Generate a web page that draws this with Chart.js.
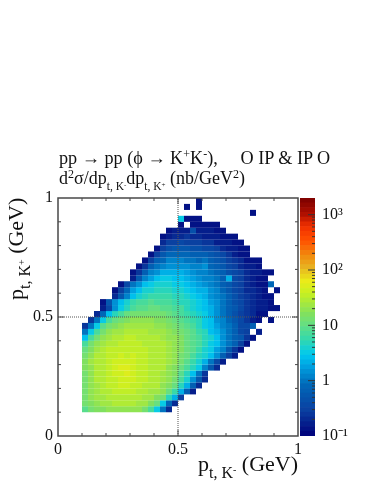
<!DOCTYPE html>
<html>
<head>
<meta charset="utf-8">
<title>pt K+ vs pt K-</title>
<script src="https://cdn.jsdelivr.net/npm/chart.js@4"></script>
<style>
  html, body { margin: 0; padding: 0; background: #fff; }
  #page { position: relative; width: 374px; height: 484px; overflow: hidden; font-family: "Liberation Serif", serif; color: #111; }
  canvas { position: absolute; left: 0; top: 0; }
  .txt { position: absolute; white-space: pre; line-height: 1; }
  .txt sub, .txt sup { line-height: 0; }
  #title1 { left: 59px; top: 149px; font-size: 18.2px; }
  #title2 { left: 59px; top: 169px; font-size: 18px; }
  #title2 sup { font-size: 12px; vertical-align: 6px; }
  #title1 sup { font-size: 12px; vertical-align: 6px; }
  #title2 sub { font-size: 11.5px; vertical-align: -6px; }
  #xTitle { left: 198px; top: 453px; font-size: 22px; }
  #xTitle sub { font-size: 16px; vertical-align: -7px; }
  #yTitle { left: 5px; top: 300px; font-size: 22px; transform-origin: 0 0; transform: rotate(-90deg); }
  #yTitle sub { font-size: 16px; vertical-align: -7px; }
</style>
</head>
<body>
<div id="page">
  <canvas id="mapChart" width="374" height="484"></canvas>
  <canvas id="barChart" width="374" height="484"></canvas>
  <div class="txt" id="title1">pp → pp (ϕ → K<sup>+</sup>K<sup>-</sup>),     O IP &amp; IP O</div>
  <div class="txt" id="title2">d<sup>2</sup>σ/dp<sub>t, K<sup style="font-size:7px;vertical-align:3px">-</sup></sub>dp<sub>t, K<sup style="font-size:7px;vertical-align:3px">+</sup></sub> (nb/GeV<sup>2</sup>)</div>
  <div class="txt" id="xTitle">p<sub>t, K<sup style="font-size:10px;vertical-align:5px">-</sup></sub> (GeV)</div>
  <div class="txt" id="yTitle">p<sub>t, K<sup style="font-size:10px;vertical-align:5px">+</sup></sub> (GeV)</div>
</div>
<script>
// cross section per bin, one array per p_t,K+ row (row 0 = 0.100-0.125), first cell at rowStart[row]
const rowStart = [4, 4, 4, 4, 4, 4, 4, 4, 4, 4, 4, 4, 4, 4, 4, 5, 6, 7, 7, 9, 9, 10, 12, 12, 13, 14, 15, 16, 17, 17, 18, 20, 20, 32, 21, 23];
const row00 = [9, 12, 15, 17, 19, 20, 21, 21, 20, 18, 13, 7, 3, 0.9, 0.2];
const row01 = [12, 17, 20, 23, 25, 27, 27, 27, 26, 25, 22, 17, 10, 3.5, 0.8, 0.2];
const row02 = [13, 18, 22, 25, 28, 30, 31, 31, 30, 28, 25, 22, 17, 13, 5, 2, 0.3];
const row03 = [13, 19, 23, 27, 30, 33, 36, 36, 33, 30, 28, 25, 23, 18, 11, 6, 2, 0.6, 0.15];
const row04 = [14, 20, 24, 28, 32, 35, 40, 42, 38, 33, 30, 27, 26, 21, 15, 10, 5, 2, 0.6, 0.2];
const row05 = [14, 21, 26, 30, 33, 38, 44, 44, 42, 35, 32, 29, 28, 23, 18, 13, 7, 4, 1.4, 0.5, 0.2];
const row06 = [14, 21, 26, 30, 34, 40, 46, 48, 44, 36, 33, 30, 29, 25, 20, 15, 9, 5, 2.5, 0.9, 0.25];
const row07 = [15, 21, 27, 31, 35, 42, 47, 48, 43, 37, 34, 31, 29, 26, 21, 17, 11, 7, 4.5, 3, 1.2, 0.5, 0.2];
const row08 = [15, 22, 27, 31, 35, 40, 46, 46, 42, 37, 34, 31, 29, 26, 22, 18, 12, 8, 5.5, 3.6, 2.2, 0.9, 0.4, 0.18];
const row09 = [14, 21, 27, 31, 35, 38, 44, 38, 44, 37, 34, 31, 29, 26, 23, 19, 14, 10, 7, 5, 3.6, 2.5, 1.5, 0.6, 0.3, 0.15];
const row10 = [11, 17, 22, 28, 32, 35, 37, 38, 38, 36, 33, 30, 29, 26, 24, 20, 15, 11, 8, 6, 4.3, 3, 1.9, 1.1, 0.5, 0.25, 0.14];
const row11 = [7, 13, 18, 23, 28, 31, 34, 36, 35, 33, 31, 29, 28, 26, 23, 19, 15, 11, 8.5, 6.5, 4.8, 3.4, 2.4, 1.6, 0.9, 0.6, 0.3, 0.14];
const row12 = [2.5, 7, 13, 19, 24, 27, 30, 32, 32, 31, 29, 27, 26, 24, 21, 18, 14.5, 11, 8.5, 6.5, 5, 3.6, 2.5, 1.5, 1, 0.7, 0.5, 0.25, 0.14];
const row13 = [0.9, 3, 7, 12, 18, 22, 25, 27, 28, 28, 27, 25, 24, 22, 19, 16, 13, 10.5, 8, 6, 4.5, 2.8, 2, 1.4, 1, 0.7, 0.4, 0.3, null, 0.15];
const row14 = [0.25, 0.9, 3, 8, 12, 16, 19, 22, 23, 24, 23, 22, 21, 19, 17, 14, 11.5, 9, 7, 5, 3.5, 2.5, 1.8, 1.2, 0.9, 0.6, 0.4, 0.4, 0.6];
const row15 = [0.25, 0.9, 3, 6.5, 10, 13, 16, 18, 19, 19, 18, 17, 15, 13, 11, 9, 7.5, 6, 4.5, 3.3, 2.4, 1.6, 1.1, 0.8, 0.5, 0.35, 0.25, 0.15, 0.13, null, 0.13];
const row16 = [0.2, 0.8, 2.5, 4.5, 7, 10, 12, 13, 14, 14, 13, 12, 10, 9, 7.5, 6, 5, 4, 3, 2.2, 1.4, 1, 0.7, 0.45, 0.3, 0.25, 0.2, 0.13, 0.13];
const row17 = [0.15, 0.4, 1.5, 3, 5, 7, 8.5, 9.5, 10, 10, 9.5, 8.5, 7.5, 6.5, 5.2, 4.2, 3.4, 2.6, 2, 1.4, 1, 0.7, 0.5, 0.35, 0.25, 0.2, 0.15, 0.15, 0.13, 0.13];
const row18 = [0.13, 0.5, 1.5, 2.6, 4, 5.5, 6.5, 7.5, 8, 7.5, 7, 6.5, 6, 5.2, 4.5, 3.6, 3, 2.4, 1.9, 1.4, 1, 0.7, 0.45, 0.33, 0.25, 0.2, 0.18, 0.15, 0.13];
const row19 = [0.2, 0.5, 1.2, 2.4, 4, 5, 6, 6, 6, 5.5, 5, 4.5, 4, 3.3, 2.7, 2.1, 1.6, 1.2, 0.9, 0.6, 0.42, 0.3, 0.25, 0.2, 0.15, 0.14, 0.13];
const row20 = [0.14, 0.3, 0.8, 1.7, 2.6, 3.6, 4.3, 4.8, 4.8, 4.5, 4.2, 3.6, 3.2, 2.8, 2.3, 2, 1.4, 1.1, 0.8, 0.55, 0.4, 0.3, 0.2, 0.2, 0.15, 0.14, null, 0.13];
const row21 = [0.14, 0.35, 0.9, 1.5, 2.4, 3.1, 3.6, 3.8, 3.8, 3.5, 3.2, 2.7, 2.3, 1.9, 1.6, 1.3, 1, 0.7, 0.5, 0.38, 0.27, 0.2, 0.17, 0.14, 0.14, 0.8];
const row22 = [0.15, 0.5, 1.1, 1.9, 2.5, 2.9, 2.9, 2.8, 2.6, 2.2, 1.9, 1.5, 1.3, 1.1, 0.9, 0.7, 2, 0.4, 0.3, 0.22, 0.18, 0.14, 0.13];
const row23 = [0.13, 0.25, 0.6, 1.1, 1.6, 2, 2.2, 2.2, 2, 1.8, 1.5, 1.3, 1.1, 1, 0.8, 0.6, 0.45, 0.35, 0.28, 0.2, 0.17, 0.15, 0.13, 0.13];
const row24 = [0.13, 0.25, 0.6, 1, 1.3, 1.5, 1.6, 1.5, 1.4, 1.3, 1.1, 1.4, 0.8, 0.7, 0.5, 0.4, 0.3, 0.22, 0.18, 0.15, 0.13];
const row25 = [0.14, 0.28, 0.6, 0.85, 1.1, 1.2, 1.1, 1, 0.95, 0.85, 0.95, 0.65, 0.55, 0.42, 0.3, 0.25, 0.2, 0.14, 0.13, 0.13];
const row26 = [0.14, 0.28, 0.55, 0.75, 0.85, 0.85, 0.75, 0.7, 0.65, 0.6, 0.5, 0.42, 0.33, 0.25, 0.18, 0.14, 0.13];
const row27 = [0.14, 0.3, 0.42, 0.5, 0.55, 0.5, 0.45, 0.42, 0.38, 0.33, 0.28, 0.22, 0.18, 0.16, 0.14, 0.13];
const row28 = [0.2, 0.28, 0.32, 0.35, 0.32, 0.3, 0.28, 0.25, 0.23, 0.18, 0.16, 0.15, 0.13, 0.13];
const row29 = [0.14, 0.18, 0.22, 0.22, 0.25, 0.22, 0.2, 0.18, 0.17, 0.15, 0.14, 0.13, 0.13];
const row30 = [0.14, 0.15, 0.18, 0.16, 0.45, 0.16, 0.15, 0.15, 0.14, 0.14];
const row31 = [0.13, null, 0.14, 0.13, 0.13, 0.13, 0.13];
const row32 = [3, 0.14, 0.14, 0.13];
const row33 = [0.13];
const row34 = [0.13, null, 0.13];
const row35 = [0.13];
const rows = [row00, row01, row02, row03, row04, row05, row06, row07, row08, row09, row10, row11,
  row12, row13, row14, row15, row16, row17, row18, row19, row20, row21, row22, row23,
  row24, row25, row26, row27, row28, row29, row30, row31, row32, row33, row34, row35];

const binWidth = 0.025;
const axisTicks = [0, 0.5, 1];
const axisLabels = ['0', '0.5', '1'];
const minorTicks = [0.1, 0.2, 0.3, 0.4, 0.6, 0.7, 0.8, 0.9];
const crossAt = 0.5;

// color bar
const zMin = 0.1;
const zMax = 2000;
const zLevels = 50;
const zDecades = [0.1, 1, 10, 100, 1000];
const zDecadeLabels = ['10⁻¹', '1', '10', '10²', '10³'];
const zMinorMantissa = [2, 3, 4, 5, 6, 7, 8, 9];
const paletteAt = [0, 0.105, 0.214, 0.29, 0.34, 0.40, 0.48, 0.51, 0.60, 0.65, 0.71, 0.75, 0.82, 0.88, 0.93, 1];
const paletteRgb = [
  [0, 0, 122], [10, 63, 160], [0, 104, 184], [0, 160, 224], [0, 200, 240], [48, 216, 176],
  [112, 224, 120], [128, 224, 96], [200, 240, 32], [235, 235, 25], [232, 176, 32], [240, 144, 16],
  [255, 80, 0], [240, 48, 0], [176, 16, 0], [122, 0, 0]
];

const serif = '"Liberation Serif", serif';
const frameColor = '#484848';

function paletteColor(f) {
    f = Math.min(1, Math.max(0, f));
    let i = 0;
    while (i < paletteAt.length - 2 && f > paletteAt[i + 1]) i++;
    const t = (f - paletteAt[i]) / (paletteAt[i + 1] - paletteAt[i]);
    const c = paletteRgb[i].map((v, k) => Math.round(v + (paletteRgb[i + 1][k] - v) * t));
    return `rgb(${c[0]},${c[1]},${c[2]})`;
}

// same 50 steps as the color bar
function zColor(z) {
    const f = Math.log(z / zMin) / Math.log(zMax / zMin);
    const level = Math.min(zLevels - 1, Math.floor(f * zLevels));
    return paletteColor((level + 0.5) / zLevels);
}

const cells = [];
const cellColors = [];
rows.forEach((row, r) => {
    row.forEach((z, i) => {
        if (z === null) return;
        cells.push({ x: (rowStart[r] + i + 0.5) * binWidth, y: 0.1 + (r + 0.5) * binWidth });
        cellColors.push(zColor(z));
    });
});

const framePlugin = {
    id: 'frame',
    afterDatasetsDraw(chart) {
        const { ctx, chartArea: a, scales: { x, y } } = chart;
        ctx.save();
        ctx.strokeStyle = frameColor;
        ctx.lineWidth = 1;
        ctx.beginPath();
        // inward ticks on all four sides
        const tick = (v, len) => {
            const px = x.getPixelForValue(v);
            const py = y.getPixelForValue(v);
            ctx.moveTo(px, a.bottom); ctx.lineTo(px, a.bottom - len);
            ctx.moveTo(px, a.top); ctx.lineTo(px, a.top + len);
            ctx.moveTo(a.left, py); ctx.lineTo(a.left + len, py);
            ctx.moveTo(a.right, py); ctx.lineTo(a.right - len, py);
        };
        minorTicks.forEach(v => tick(v, 3));
        tick(crossAt, 6);
        ctx.stroke();
        ctx.lineWidth = 1.5;
        ctx.strokeRect(a.left, a.top, a.right - a.left, a.bottom - a.top);
        ctx.restore();
    }
};

new Chart(document.getElementById('mapChart'), {
    type: 'scatter',
    data: {
        datasets: [
            { data: [{ x: crossAt, y: 0 }, { x: crossAt, y: 1 }], showLine: true, pointRadius: 0, borderColor: '#555', borderWidth: 1, borderDash: [1, 1] },
            { data: [{ x: 0, y: crossAt }, { x: 1, y: crossAt }], showLine: true, pointRadius: 0, borderColor: '#555', borderWidth: 1, borderDash: [1, 1] },
            { data: cells, pointStyle: 'rect', pointRadius: 4.28, pointBorderWidth: 0, pointBackgroundColor: cellColors }
        ]
    },
    options: {
        responsive: false,
        animation: false,
        layout: { padding: { left: 0, top: 198, right: 76, bottom: 0 } },
        plugins: { legend: { display: false }, tooltip: { enabled: false } },
        scales: {
            x: {
                type: 'linear', min: 0, max: 1,
                grid: { display: false, drawTicks: false }, border: { display: false },
                afterBuildTicks: s => { s.ticks = axisTicks.map(value => ({ value })); },
                afterFit: s => { s.height = 48; },
                ticks: {
                    color: '#111', font: { family: serif, size: 16 }, padding: 4, maxRotation: 0, autoSkip: false,
                    callback: v => axisLabels[axisTicks.indexOf(v)]
                }
            },
            y: {
                type: 'linear', min: 0, max: 1,
                grid: { display: false, drawTicks: false }, border: { display: false },
                afterBuildTicks: s => { s.ticks = axisTicks.map(value => ({ value })); },
                afterFit: s => { s.width = 58; },
                ticks: {
                    color: '#111', font: { family: serif, size: 16 }, padding: 5, autoSkip: false,
                    callback: v => axisLabels[axisTicks.indexOf(v)]
                }
            }
        }
    },
    plugins: [framePlugin]
});

// one floating bar per color level
const levelSets = [];
for (let i = 0; i < zLevels; i++) {
    const lo = zMin * Math.pow(zMax / zMin, i / zLevels);
    const hi = zMin * Math.pow(zMax / zMin, (i + 1) / zLevels);
    levelSets.push({
        data: [[lo, hi]], grouped: false, barPercentage: 1, categoryPercentage: 1, borderWidth: 0,
        backgroundColor: paletteColor((i + 0.5) / zLevels)
    });
}

const barTicksPlugin = {
    id: 'barTicks',
    afterDatasetsDraw(chart) {
        const { ctx, chartArea: a, scales: { y } } = chart;
        ctx.save();
        ctx.strokeStyle = '#333';
        ctx.lineWidth = 1;
        ctx.beginPath();
        zDecades.forEach(d => {
            if (d > zMin) {
                const py = y.getPixelForValue(d);
                ctx.moveTo(a.right, py); ctx.lineTo(a.right - 7, py);
            }
            zMinorMantissa.forEach(m => {
                if (d * m >= zMax) return;
                const py = y.getPixelForValue(d * m);
                ctx.moveTo(a.right, py); ctx.lineTo(a.right - 3, py);
            });
        });
        ctx.stroke();
        ctx.restore();
    }
};

new Chart(document.getElementById('barChart'), {
    type: 'bar',
    data: { labels: ['z'], datasets: levelSets },
    options: {
        responsive: false,
        animation: false,
        layout: { padding: { left: 300, top: 198, right: 0, bottom: 48 } },
        plugins: { legend: { display: false }, tooltip: { enabled: false } },
        scales: {
            x: { display: false },
            y: {
                type: 'logarithmic', position: 'right', min: zMin, max: zMax,
                grid: { display: false, drawTicks: false }, border: { display: false },
                afterBuildTicks: s => { s.ticks = zDecades.map(value => ({ value })); },
                afterFit: s => { s.width = 59; },
                ticks: {
                    color: '#111', font: { family: serif, size: 16 }, padding: 7, autoSkip: false,
                    callback: v => zDecadeLabels[zDecades.indexOf(v)]
                }
            }
        }
    },
    plugins: [barTicksPlugin]
});
</script>
</body>
</html>
